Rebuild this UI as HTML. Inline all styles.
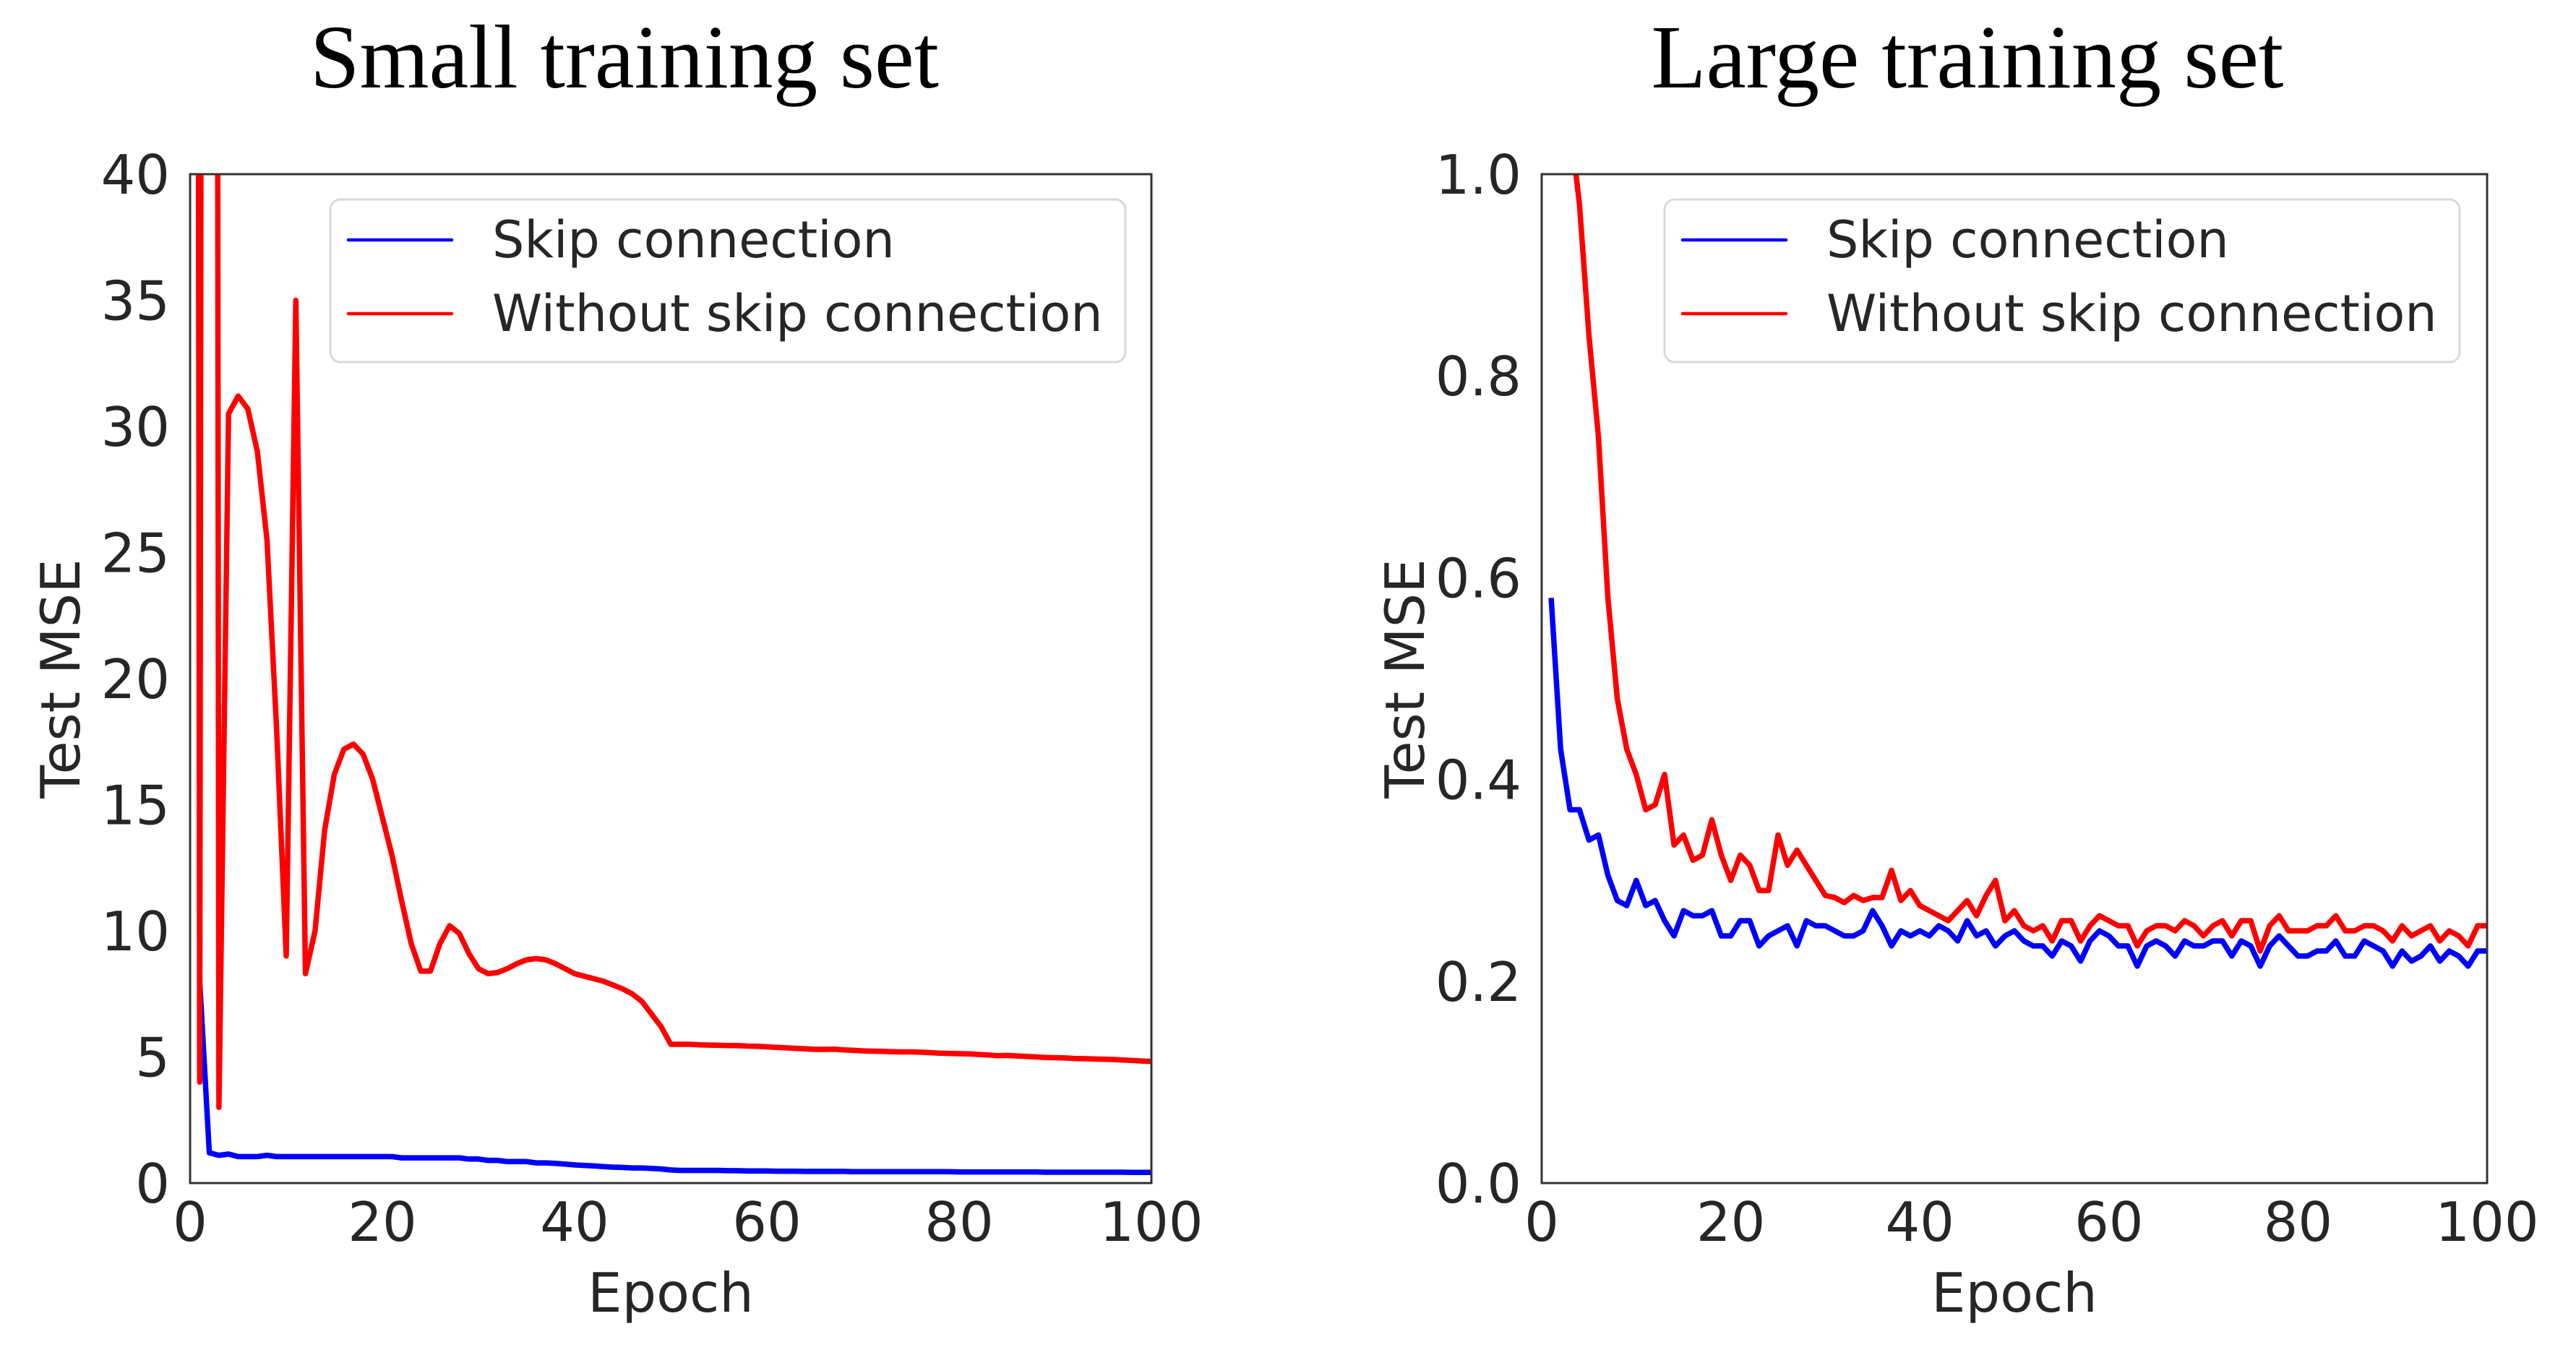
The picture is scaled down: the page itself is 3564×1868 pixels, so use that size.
<!DOCTYPE html>
<html><head><meta charset="utf-8"><style>
html,body{margin:0;padding:0;background:#fff;}
svg{display:block;}
text{font-family:"DejaVu Sans","Liberation Sans",sans-serif;fill:#262626;}
.title{font-family:"Liberation Serif",serif;fill:#000;font-size:125px;}
</style></head><body>
<svg id="fig" width="3564" height="1868" viewBox="0 0 3564 1868" xmlns="http://www.w3.org/2000/svg">
<defs>
<clipPath id="clipL"><rect x="263" y="241" width="1330" height="1396"/></clipPath>
<clipPath id="clipR"><rect x="2133" y="241" width="1308" height="1396"/></clipPath>
</defs>
<text class="title" x="864" y="121" text-anchor="middle" textLength="870" lengthAdjust="spacingAndGlyphs">Small training set</text>
<text class="title" x="2722" y="121" text-anchor="middle" textLength="875" lengthAdjust="spacingAndGlyphs">Large training set</text>
<g id="gL"></g>
<g id="gR"></g>
</svg>
<script>
const epochsRed = [0,1,2,3,4,5,6,7,8,9,10,11,12,13,14,15,16,17,18,19,20,21,22,23,24,25,26,27,28,29,30,31,32,33,34,35,36,37,38,39,40,41,42,43,44,45,46,47,48,49,50,51,52,53,54,55,56,57,58,59,60,61,62,63,64,65,66,67,68,69,70,71,72,73,74,75,76,77,78,79,80,81,82,83,84,85,86,87,88,89,90,91,92,93,94,95,96,97,98,99,100];
const smallRed = [300,4,300,3,30.5,31.2,30.7,29,25.5,18,9,35,8.3,10,14,16.2,17.2,17.4,17,16,14.5,13,11.2,9.5,8.4,8.4,9.5,10.2,9.9,9.1,8.5,8.3,8.35,8.5,8.7,8.85,8.9,8.85,8.7,8.5,8.3,8.2,8.1,8.0,7.85,7.7,7.5,7.2,6.7,6.2,5.5,5.5,5.5,5.48,5.47,5.46,5.45,5.45,5.43,5.42,5.4,5.38,5.36,5.34,5.32,5.3,5.3,5.31,5.28,5.26,5.24,5.23,5.22,5.21,5.2,5.2,5.19,5.17,5.15,5.14,5.13,5.12,5.1,5.08,5.05,5.06,5.04,5.02,5.0,4.98,4.97,4.96,4.94,4.93,4.92,4.91,4.9,4.88,4.86,4.84,4.82];
const epochsBlue = [1,2,3,4,5,6,7,8,9,10,11,12,13,14,15,16,17,18,19,20,21,22,23,24,25,26,27,28,29,30,31,32,33,34,35,36,37,38,39,40,41,42,43,44,45,46,47,48,49,50,51,52,53,54,55,56,57,58,59,60,61,62,63,64,65,66,67,68,69,70,71,72,73,74,75,76,77,78,79,80,81,82,83,84,85,86,87,88,89,90,91,92,93,94,95,96,97,98,99,100];
const smallBlue = [8,1.2,1.1,1.15,1.05,1.05,1.05,1.1,1.05,1.05,1.05,1.05,1.05,1.05,1.05,1.05,1.05,1.05,1.05,1.05,1.05,1.0,1.0,1.0,1.0,1.0,1.0,1.0,0.95,0.95,0.9,0.9,0.85,0.85,0.85,0.8,0.8,0.78,0.75,0.72,0.7,0.68,0.65,0.63,0.62,0.6,0.6,0.58,0.56,0.52,0.5,0.5,0.5,0.5,0.5,0.49,0.49,0.48,0.48,0.48,0.47,0.47,0.47,0.46,0.46,0.46,0.46,0.46,0.45,0.45,0.45,0.45,0.45,0.45,0.45,0.45,0.45,0.45,0.45,0.44,0.44,0.44,0.44,0.44,0.44,0.44,0.44,0.44,0.43,0.43,0.43,0.43,0.43,0.43,0.43,0.43,0.43,0.42,0.42,0.42];
const largeRed = [1.6,1.25,1.05,0.97,0.84,0.74,0.58,0.48,0.43,0.405,0.37,0.375,0.405,0.335,0.345,0.32,0.325,0.36,0.325,0.30,0.325,0.315,0.29,0.29,0.345,0.315,0.33,0.315,0.30,0.285,0.283,0.278,0.285,0.28,0.283,0.283,0.31,0.28,0.29,0.275,0.27,0.265,0.26,0.27,0.28,0.265,0.285,0.30,0.26,0.27,0.255,0.25,0.255,0.24,0.26,0.26,0.24,0.255,0.265,0.26,0.255,0.255,0.235,0.25,0.255,0.255,0.25,0.26,0.255,0.245,0.255,0.26,0.245,0.26,0.26,0.23,0.255,0.265,0.25,0.25,0.25,0.255,0.255,0.265,0.25,0.25,0.255,0.255,0.25,0.24,0.255,0.245,0.25,0.255,0.24,0.25,0.245,0.235,0.255,0.255];
const largeBlue = [0.58,0.43,0.37,0.37,0.34,0.345,0.305,0.28,0.275,0.3,0.275,0.28,0.26,0.245,0.27,0.265,0.265,0.27,0.245,0.245,0.26,0.26,0.235,0.245,0.25,0.255,0.235,0.26,0.255,0.255,0.25,0.245,0.245,0.25,0.27,0.255,0.235,0.25,0.245,0.25,0.245,0.255,0.25,0.24,0.26,0.245,0.25,0.235,0.245,0.25,0.24,0.235,0.235,0.225,0.24,0.235,0.22,0.24,0.25,0.245,0.235,0.235,0.215,0.235,0.24,0.235,0.225,0.24,0.235,0.235,0.24,0.24,0.225,0.24,0.235,0.215,0.235,0.245,0.235,0.225,0.225,0.23,0.23,0.24,0.225,0.225,0.24,0.235,0.23,0.215,0.23,0.22,0.225,0.235,0.22,0.23,0.225,0.215,0.23,0.23];
const xTicks = [0,20,40,60,80,100];
const yTicksSmall = [0,5,10,15,20,25,30,35,40];
const yTicksLarge = [0,0.2,0.4,0.6,0.8,1.0];
const yTickLabelsLarge = ["0.0","0.2","0.4","0.6","0.8","1.0"];
const legendLabels = ["Skip connection","Without skip connection"];

const NS="http://www.w3.org/2000/svg";
function mk(tag,attrs,parent){const e=document.createElementNS(NS,tag);for(const k in attrs)e.setAttribute(k,attrs[k]);parent.appendChild(e);return e;}

function panel(g,cfg){
  const x=v=>cfg.x0+(v-0)/(100-0)*(cfg.x1-cfg.x0);
  const y=v=>cfg.y1-(v-cfg.ymin)/(cfg.ymax-cfg.ymin)*(cfg.y1-cfg.y0);
  const series=[[cfg.bx,cfg.blue,'#0000ff','line-skip-connection'],[cfg.rx,cfg.red,'#ff0000','line-without-skip']];
  for(const [xs,ys,col,name] of series){
    const d=ys.map((v,i)=>(i?'L':'M')+x(xs[i]).toFixed(1)+' '+y(v).toFixed(1)).join(' ');
    const p=mk('path',{d:d,fill:'none',stroke:col,'stroke-width':7.5,'stroke-linejoin':'round','clip-path':'url(#'+cfg.clip+')'},g);
    
    
  }
  const f=mk('rect',{x:cfg.x0,y:cfg.y0,width:cfg.x1-cfg.x0,height:cfg.y1-cfg.y0,fill:'none',stroke:'#333','stroke-width':3},g);
  
  
  xTicks.forEach(v=>{
    const t=mk('text',{x:x(v),y:1717,'text-anchor':'middle','font-size':75},g);t.textContent=v;
    
    
  });
  cfg.yt.forEach((v,i)=>{
    const t=mk('text',{x:cfg.x0-28,y:y(v)+27,'text-anchor':'end','font-size':75},g);t.textContent=cfg.ytl[i];
    
    
  });
  const xl=mk('text',{x:(cfg.x0+cfg.x1)/2,y:1815,'text-anchor':'middle','font-size':75},g);xl.textContent='Epoch';
  
  
  const yl=mk('text',{x:0,y:0,'text-anchor':'middle','font-size':75,transform:'translate('+(cfg.ylx)+','+((cfg.y0+cfg.y1)/2)+') rotate(-90)'},g);yl.textContent='Test MSE';
  
  
  const lg=mk('g',{},g);
  
  
  mk('rect',{x:cfg.lx,y:276,width:1100,height:225,rx:14,fill:'#fff',stroke:'#d9d9d9','stroke-width':3},lg);
  [['#0000ff',332],['#ff0000',434]].forEach((c,i)=>{
    mk('line',{x1:cfg.lx+25,x2:cfg.lx+168,y1:c[1],y2:c[1],stroke:c[0],'stroke-width':4.5,'stroke-linecap':'round'},lg);
    const t=mk('text',{x:cfg.lx+224,y:c[1]+24,'font-size':70},lg);t.textContent=legendLabels[i];
    
    
  });
}
panel(document.getElementById('gL'),{x0:263,x1:1593,y0:241,y1:1637,ymin:0,ymax:40,clip:'clipL',rx:epochsRed,red:smallRed,bx:epochsBlue,blue:smallBlue,yt:yTicksSmall,ytl:yTicksSmall.map(String),ylx:110,lx:457});
panel(document.getElementById('gR'),{x0:2133,x1:3441,y0:241,y1:1637,ymin:0,ymax:1,clip:'clipR',rx:epochsBlue,red:largeRed,bx:epochsBlue,blue:largeBlue,yt:yTicksLarge,ytl:yTickLabelsLarge,ylx:1970,lx:2303});
</script>
</body></html>
